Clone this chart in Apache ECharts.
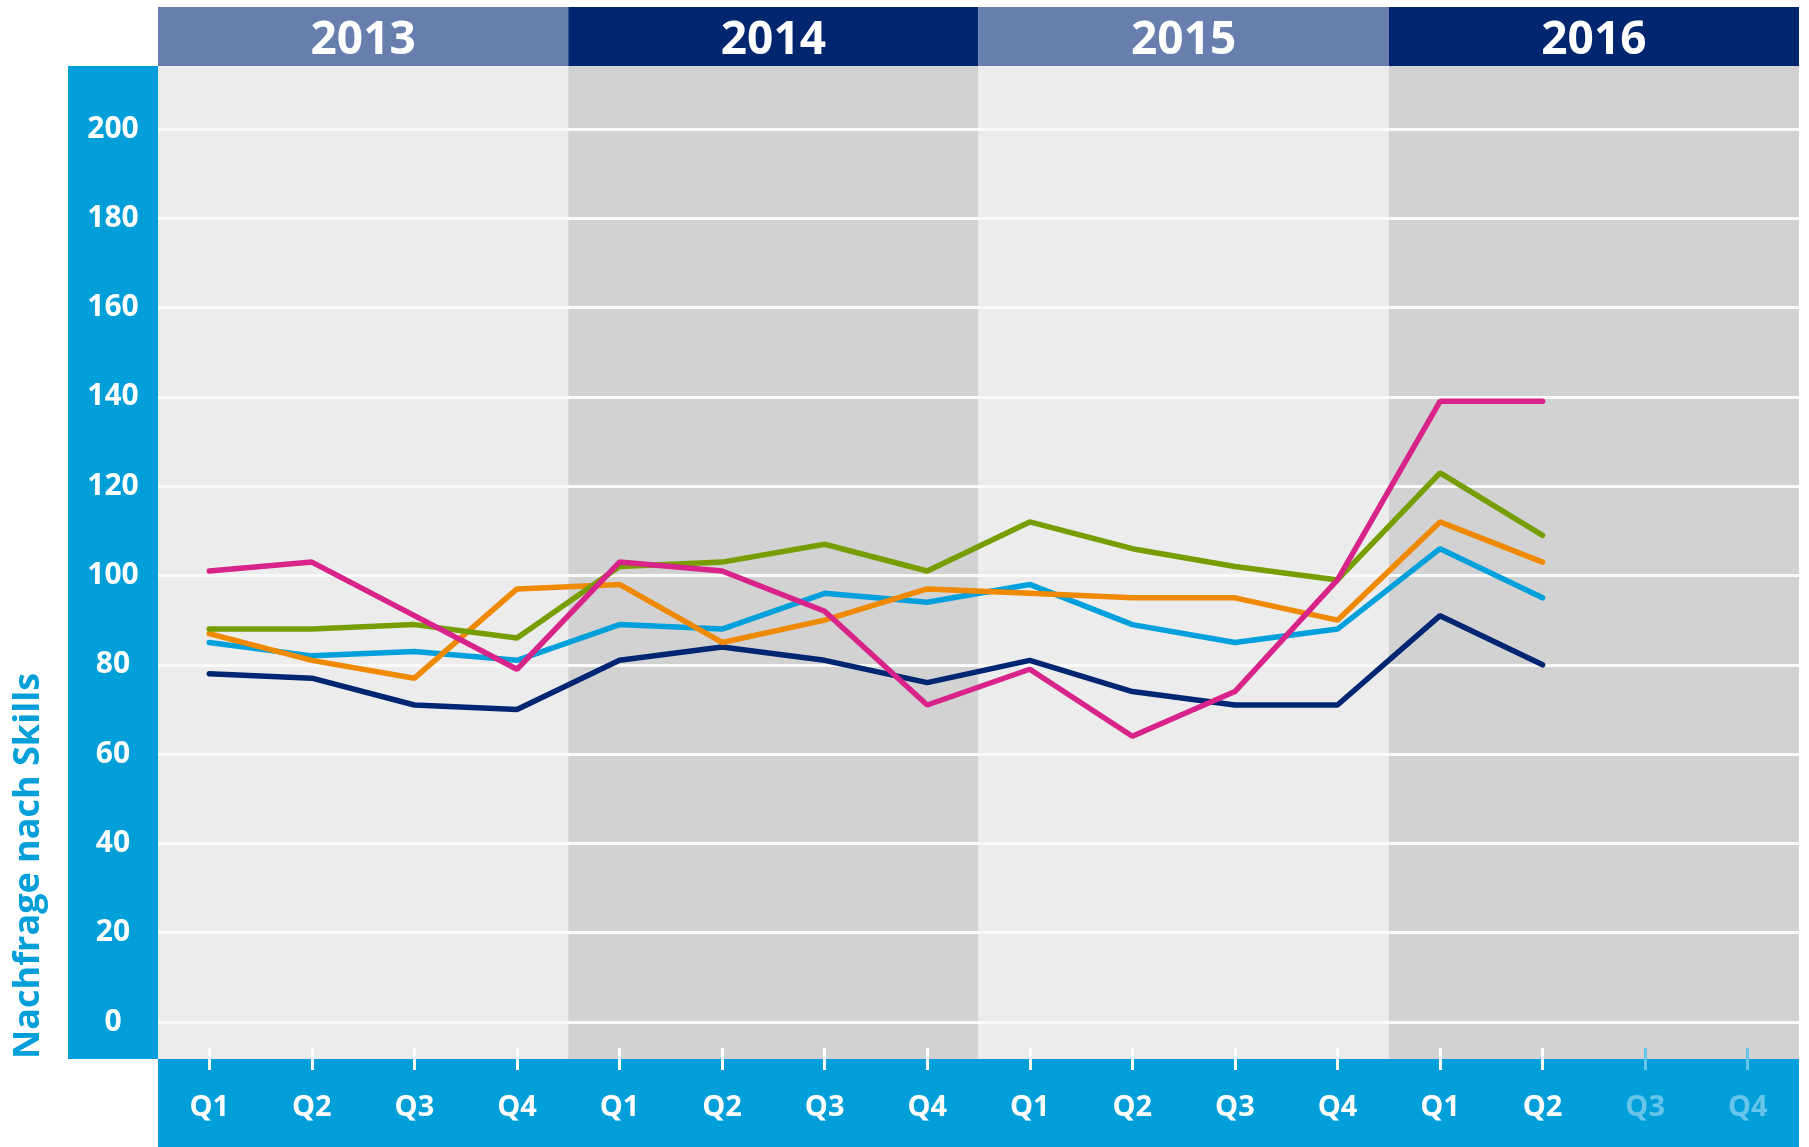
<!DOCTYPE html>
<html>
<head>
<meta charset="utf-8">
<script src="https://cdn.jsdelivr.net/npm/echarts@6/dist/echarts.min.js"></script>
<style>
html,body{margin:0;padding:0;background:#ffffff;}
#chart{width:1809px;height:1147px;}
</style>
</head>
<body>
<div id="chart"></div>
<script>
// ---- data ----
const years = ['2013', '2014', '2015', '2016'];
const quarters = ['Q1', 'Q2', 'Q3', 'Q4'];
const yMin = 0, yMax = 200, yStep = 20;
const axisTitle = 'Nachfrage nach Skills';

const navyValues      = [78, 77, 71, 70, 81, 84, 81, 76, 81, 74, 71, 71, 91, 80];
const lightBlueValues = [85, 82, 83, 81, 89, 88, 96, 94, 98, 89, 85, 88, 106, 95];
const orangeValues    = [87, 81, 77, 97, 98, 85, 90, 97, 96, 95, 95, 90, 112, 103];
const greenValues     = [88, 88, 89, 86, 102, 103, 107, 101, 112, 106, 102, 99, 123, 109];
const magentaValues   = [101, 103, 91, 79, 103, 101, 92, 71, 79, 64, 74, 99, 139, 139];
const yearBlocks      = [1, 1, 1, 1];

// ---- styles ----
const BLUE = '#009fda';
const LIGHT = '#66c5e9';
const FONT = '"Open Sans", "DejaVu Sans", sans-serif';

const categories = [];
years.forEach(y => quarters.forEach(q => categories.push(y + ' ' + q)));
const nData = magentaValues.length;

const lines = [
  { name: 'Navy', data: navyValues, color: '#002673' },
  { name: 'Hellblau', data: lightBlueValues, color: '#00a0dc' },
  { name: 'Orange', data: orangeValues, color: '#ee8900' },
  { name: 'Grün', data: greenValues, color: '#769e00' },
  { name: 'Magenta', data: magentaValues, color: '#d7238a' }
];

const chart = echarts.init(document.getElementById('chart'), null, { renderer: 'canvas' });

const option = {
  animation: false,
  backgroundColor: '#ffffff',
  grid: [
    { left: 158, right: 10, top: 66, bottom: 88 },   // background
    { left: 158, right: 10, top: 129, bottom: 125 }, // lines
    { left: 158, right: 10, top: 7, height: 59 }     // year header
  ],
  xAxis: [
    {
      gridIndex: 0, type: 'category', data: years, boundaryGap: true, z: 0,
      axisLine: { show: false, onZero: false }, axisTick: { show: false }, axisLabel: { show: false },
      splitLine: { show: false },
      splitArea: { show: true, interval: 0, areaStyle: { color: ['#ececec', '#d2d2d2'] } }
    },
    {
      gridIndex: 1, type: 'category', data: categories, boundaryGap: true, position: 'bottom', offset: 26, z: 5,
      axisLine: { show: false, onZero: false },
      axisTick: {
        show: true, alignWithLabel: true, length: 22, inside: false,
        interval: (i) => i < nData,
        lineStyle: { color: '#ffffff', width: 3 }
      },
      axisLabel: {
        show: true, interval: 0, margin: 60, verticalAlign: 'middle',
        fontSize: 29, fontWeight: 'bold', fontFamily: FONT,
        formatter: (v) => v.split(' ')[1],
        color: (v, i) => (i < nData ? '#ffffff' : LIGHT)
      },
      splitLine: { show: false }
    },
    {
      gridIndex: 1, type: 'category', data: categories, boundaryGap: true, position: 'bottom', offset: 26, z: 5,
      axisLine: { show: false, onZero: false },
      axisTick: {
        show: true, alignWithLabel: true, length: 22, inside: false,
        interval: (i) => i >= nData,
        lineStyle: { color: LIGHT, width: 3 }
      },
      axisLabel: { show: false },
      splitLine: { show: false }
    },
    {
      gridIndex: 2, type: 'category', data: years, boundaryGap: true, show: false,
      axisLine: { onZero: false }
    }
  ],
  yAxis: [
    { gridIndex: 0, type: 'value', min: 0, max: 1, show: false },
    {
      gridIndex: 1, type: 'value', min: yMin, max: yMax, interval: yStep, z: 1,
      axisLine: { show: false }, axisTick: { show: false },
      splitLine: { show: true, lineStyle: { color: '#fafafa', width: 3 } },
      axisLabel: {
        margin: 45, align: 'center', color: '#ffffff',
        fontSize: 30, fontWeight: 'bold', fontFamily: FONT
      }
    },
    { gridIndex: 2, type: 'value', min: 0, max: 1, show: false }
  ],
  graphic: [
    { type: 'rect', z: 0, silent: true, shape: { x: 68, y: 66, width: 90, height: 993 }, style: { fill: BLUE } },
    { type: 'rect', z: 0, silent: true, shape: { x: 158, y: 1059, width: 1641, height: 88 }, style: { fill: BLUE } },
    {
      type: 'text', z: 0, silent: true, x: 29, y: 866, rotation: Math.PI / 2,
      style: {
        text: axisTitle, fill: BLUE, fontSize: 36, fontWeight: 'bold', fontFamily: FONT,
        textAlign: 'center', textVerticalAlign: 'middle', align: 'center', verticalAlign: 'middle'
      }
    }
  ],
  series: [
    {
      type: 'bar', xAxisIndex: 3, yAxisIndex: 2, data: yearBlocks, barWidth: '100%', silent: true, z: 2,
      itemStyle: { color: (p) => (p.dataIndex % 2 === 0 ? '#687eae' : '#00266f') },
      label: {
        show: true, position: 'inside', formatter: '{b}', color: '#ffffff',
        fontSize: 46, fontWeight: 'bold', fontFamily: FONT, offset: [0, 4]
      }
    }
  ].concat(lines.map(l => ({
    type: 'line', name: l.name, xAxisIndex: 1, yAxisIndex: 1, data: l.data,
    symbol: 'none', silent: true, z: 3,
    lineStyle: { color: l.color, width: 5.5, cap: 'round' },
    itemStyle: { color: l.color }
  })))
};

chart.setOption(option);
</script>
</body>
</html>
